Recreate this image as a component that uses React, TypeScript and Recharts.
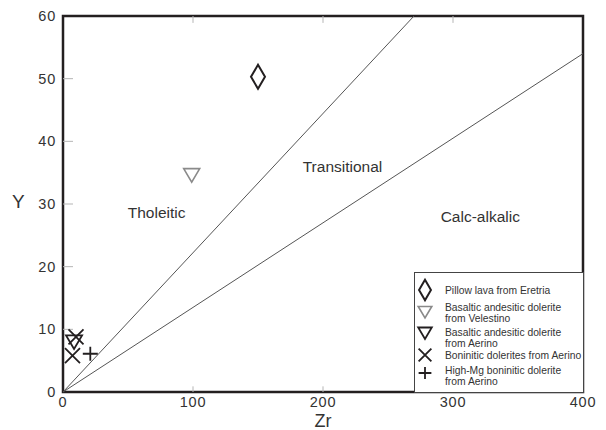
import React from 'react'
import {
  ComposedChart, Scatter, XAxis, YAxis, ReferenceLine, ReferenceArea, ReferenceDot, Legend,
} from 'recharts'

// Zr vs Y discrimination diagram
const ZR_TICKS = [0, 100, 200, 300, 400]
const Y_TICKS = [0, 10, 20, 30, 40, 50, 60]
const ZR_INNER_TICKS = [100, 200, 300]
const Y_INNER_TICKS = [10, 20, 30, 40, 50]

const tholeiiticBoundary = [{ x: 0, y: 0 }, { x: 270, y: 60 }]
const calcAlkalicBoundary = [{ x: 0, y: 0 }, { x: 400, y: 54 }]

const regionLabels = [
  { name: 'Tholeitic', zr: 72, y: 28.6 },
  { name: 'Transitional', zr: 215, y: 36 },
  { name: 'Calc-alkalic', zr: 321, y: 28 },
]

const pillowLava = [{ zr: 150, y: 50.3 }]
const velestinoDolerite = [{ zr: 99, y: 34.6 }]
const aerinoDolerite = [{ zr: 8.5, y: 8 }]
const boniniticDolerites = [{ zr: 10, y: 8.8 }, { zr: 7.3, y: 5.8 }]
const highMgDolerite = [{ zr: 21, y: 6.1 }]

const legendLines = [
  ['Pillow lava from Eretria'],
  ['Basaltic andesitic dolerite', 'from Velestino'],
  ['Basaltic andesitic dolerite', 'from Aerino'],
  ['Boninitic dolerites from Aerino'],
  ['High-Mg boninitic dolerite', 'from Aerino'],
]

const INK = '#231f20'
const TEXT = '#333'
const FONT = '"Liberation Sans", Arial, Helvetica, sans-serif'

type Mark = 'diamond' | 'triGray' | 'tri' | 'cross' | 'plus'

function drawMark(kind: Mark, cx: number, cy: number, s = 1) {
  switch (kind) {
    case 'diamond':
      return <path d={`M${cx},${cy - 12 * s} L${cx + 7 * s},${cy} L${cx},${cy + 12 * s} L${cx - 7 * s},${cy} Z`} fill="none" stroke={INK} strokeWidth={2} />
    case 'triGray':
      return <path d={`M${cx - 8 * s},${cy - 6.5 * s} L${cx + 8 * s},${cy - 6.5 * s} L${cx},${cy + 7 * s} Z`} fill="none" stroke="#8a8a8a" strokeWidth={1.6} />
    case 'tri':
      return <path d={`M${cx - 8 * s},${cy - 6.5 * s} L${cx + 8 * s},${cy - 6.5 * s} L${cx},${cy + 7 * s} Z`} fill="none" stroke={INK} strokeWidth={1.8} />
    case 'cross':
      return <path d={`M${cx - 7.5 * s},${cy - 7.5 * s} L${cx + 7.5 * s},${cy + 7.5 * s} M${cx + 7.5 * s},${cy - 7.5 * s} L${cx - 7.5 * s},${cy + 7.5 * s}`} fill="none" stroke={INK} strokeWidth={1.8} />
    default:
      return <path d={`M${cx - 7.5 * s},${cy} L${cx + 7.5 * s},${cy} M${cx},${cy - 7 * s} L${cx},${cy + 7 * s}`} fill="none" stroke={INK} strokeWidth={1.8} />
  }
}

const shapeOf = (kind: Mark) => (props: any) => drawMark(kind, props.cx, props.cy)

const LEGEND_MARKS: Mark[] = ['diamond', 'triGray', 'tri', 'cross', 'plus']
const LEGEND_ICON_Y = [18, 40, 61, 83, 101]
const LEGEND_TEXT_Y = [18, 35, 60, 83, 98]

function LegendBox() {
  return (
    <svg width={170} height={121} style={{ display: 'block', fontFamily: FONT }}>
      <rect x={0.5} y={0.5} width={169} height={120} fill="#fff" stroke="#444" strokeWidth={1} />
      {legendLines.map((lines, i) => (
        <g key={i}>
          {drawMark(LEGEND_MARKS[i], 11, LEGEND_ICON_Y[i], 0.85)}
          {lines.map((line, j) => (
            <text key={j} x={31} y={LEGEND_TEXT_Y[i] + j * 11.5 + 3.6} fontSize={10.3} fill={TEXT}>
              {line}
            </text>
          ))}
        </g>
      ))}
    </svg>
  )
}

export default function App() {
  const tick = { fontSize: 14.5, fill: TEXT, letterSpacing: 0.8 }
  return (
    <div style={{ position: 'absolute', left: 0, top: 0, fontFamily: FONT, background: '#fff' }}>
      <ComposedChart width={606} height={430} margin={{ top: 16, right: 23, bottom: 0, left: 0 }}>
        <XAxis
          type="number" dataKey="zr" domain={[0, 400]} ticks={ZR_TICKS} height={38}
          axisLine={false} tickLine={false} tickSize={0} tickMargin={5} tick={tick}
          label={{ value: 'Zr', position: 'insideBottom', offset: 3, fontSize: 18, fill: TEXT }}
        />
        <YAxis
          type="number" dataKey="y" domain={[0, 60]} ticks={Y_TICKS} width={63}
          axisLine={false} tickLine={false} tickSize={0} tickMargin={7} tick={tick}
          label={{ value: 'Y', position: 'insideLeft', offset: 12, dy: -3, fontSize: 19, fill: TEXT }}
        />
        {Y_INNER_TICKS.map((v) => (
          <ReferenceLine key={`yt${v}`} segment={[{ x: 0, y: v }, { x: 7.7, y: v }]} stroke="#b5b5b5" strokeWidth={1} />
        ))}
        {ZR_INNER_TICKS.map((v) => (
          <ReferenceLine key={`xb${v}`} segment={[{ x: v, y: 0 }, { x: v, y: 0.9 }]} stroke="#b5b5b5" strokeWidth={1} />
        ))}
        {ZR_INNER_TICKS.map((v) => (
          <ReferenceLine key={`xt${v}`} segment={[{ x: v, y: 60 }, { x: v, y: 58.9 }]} stroke="#b5b5b5" strokeWidth={1} />
        ))}
        <ReferenceLine segment={tholeiiticBoundary} stroke="#555" strokeWidth={1} />
        <ReferenceLine segment={calcAlkalicBoundary} stroke="#555" strokeWidth={1} />
        {regionLabels.map((r) => (
          <ReferenceDot
            key={r.name} x={r.zr} y={r.y} r={0} fill="none" stroke="none"
            label={{ value: r.name, position: 'center', fontSize: 15.5, fill: TEXT }}
          />
        ))}
        <ReferenceArea x1={0} x2={400} y1={0} y2={60} fill="none" fillOpacity={0} stroke={INK} strokeWidth={2.5} />
        <Scatter name="Pillow lava from Eretria" data={pillowLava} shape={shapeOf('diamond')} isAnimationActive={false} />
        <Scatter name="Basaltic andesitic dolerite from Velestino" data={velestinoDolerite} shape={shapeOf('triGray')} isAnimationActive={false} />
        <Scatter name="Basaltic andesitic dolerite from Aerino" data={aerinoDolerite} shape={shapeOf('tri')} isAnimationActive={false} />
        <Scatter name="Boninitic dolerites from Aerino" data={boniniticDolerites} shape={shapeOf('cross')} isAnimationActive={false} />
        <Scatter name="High-Mg boninitic dolerite from Aerino" data={highMgDolerite} shape={shapeOf('plus')} isAnimationActive={false} />
        <Legend
          layout="vertical" verticalAlign="middle" align="center"
          wrapperStyle={{ left: 414, top: 272, width: 170, height: 121 }}
          content={() => <LegendBox />}
        />
      </ComposedChart>
    </div>
  )
}
